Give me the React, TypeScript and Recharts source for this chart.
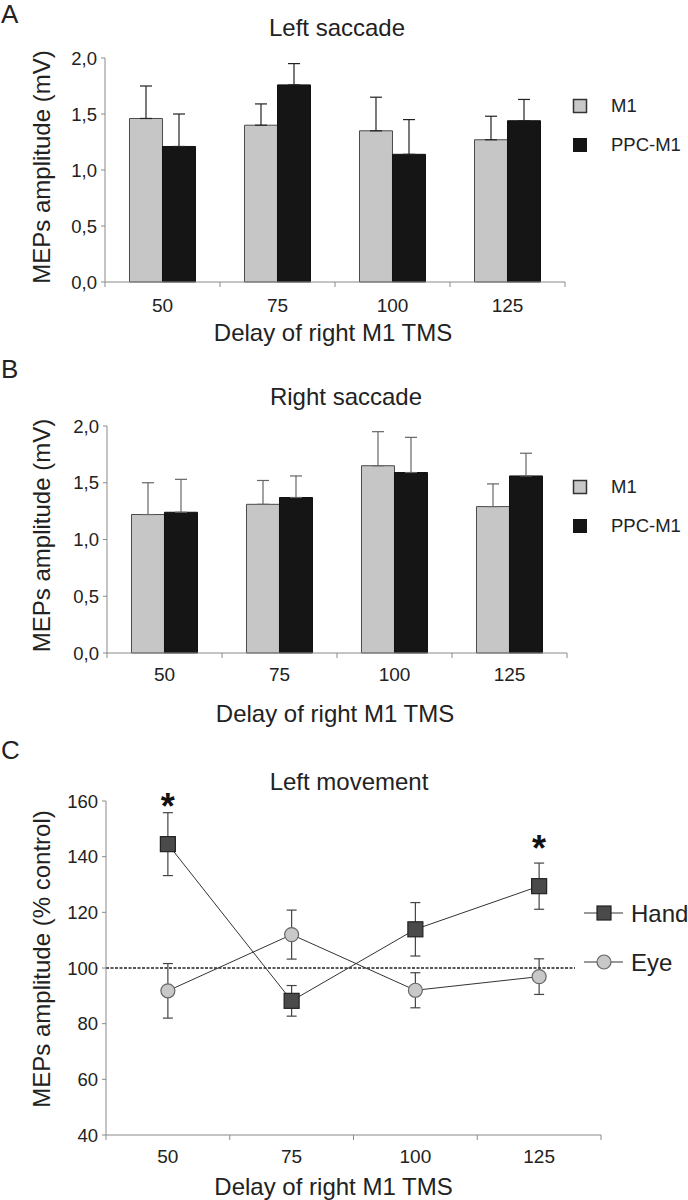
import React from 'react';
import {
  BarChart,
  Bar,
  ComposedChart,
  Line,
  XAxis,
  YAxis,
  ErrorBar,
  Legend,
  ReferenceLine,
  LabelList,
} from 'recharts';

const FONT = '"Liberation Sans", Arial, Helvetica, sans-serif';
const TXT = '#222';
const AXIS = '#8a8a8a';

// ---------- data ----------
const delays = ['50', '75', '100', '125'];

const leftM1 = [1.46, 1.4, 1.35, 1.27];
const leftM1Err = [0.29, 0.19, 0.3, 0.21];
const leftPPC = [1.21, 1.76, 1.14, 1.44];
const leftPPCErr = [0.29, 0.19, 0.31, 0.19];

const rightM1 = [1.22, 1.31, 1.65, 1.29];
const rightM1Err = [0.28, 0.21, 0.3, 0.2];
const rightPPC = [1.24, 1.37, 1.59, 1.56];
const rightPPCErr = [0.29, 0.19, 0.31, 0.2];

const hand = [144.5, 88.2, 113.9, 129.4];
const handErr = [11.3, 5.5, 9.6, 8.3];
const eye = [91.8, 112.0, 92.0, 96.9];
const eyeErr = [9.8, 8.8, 6.3, 6.4];
const handSig = ['*', '', '', '*'];

const barTicks = [0, 0.5, 1, 1.5, 2];
const lineTicks = [40, 60, 80, 100, 120, 140, 160];
const controlLevel = 100;

const seriesNames = { m1: 'M1', ppc: 'PPC-M1', hand: 'Hand', eye: 'Eye' };
const xTitle = 'Delay of right M1 TMS';

const leftData = delays.map((d, i) => ({
  delay: d,
  m1: leftM1[i],
  m1Err: [0, leftM1Err[i]],
  ppc: leftPPC[i],
  ppcErr: [0, leftPPCErr[i]],
}));
const rightData = delays.map((d, i) => ({
  delay: d,
  m1: rightM1[i],
  m1Err: [0, rightM1Err[i]],
  ppc: rightPPC[i],
  ppcErr: [0, rightPPCErr[i]],
}));
const moveData = delays.map((d, i) => ({
  delay: d,
  hand: hand[i],
  handErr: handErr[i],
  eye: eye[i],
  eyeErr: eyeErr[i],
  sig: handSig[i],
}));

// ---------- helpers ----------
const makeXTick = (half: number, labelDy: number, count: number) => (props: any) => {
  const { x, y, payload } = props;
  const i = payload?.index ?? props.index;
  return (
    <g>
      <line x1={x - half} x2={x - half} y1={y} y2={y + 5} stroke={AXIS} strokeWidth={1} />
      {i === count - 1 && (
        <line x1={x + half} x2={x + half} y1={y} y2={y + 5} stroke={AXIS} strokeWidth={1} />
      )}
      <text x={x} y={y + labelDy} textAnchor="middle" fontSize={19} fill={TXT} fontFamily={FONT}>
        {payload.value}
      </text>
    </g>
  );
};

const makeXLabel = (dy: number, dx: number) => (props: any) => {
  const vb = props.viewBox || {};
  return (
    <text
      x={vb.x + vb.width / 2 + dx}
      y={vb.y + dy}
      textAnchor="middle"
      fontSize={24}
      fill={TXT}
      fontFamily={FONT}
    >
      {xTitle}
    </text>
  );
};

const makeYLabel = (text: string, dxBase: number, dyC: number) => (props: any) => {
  const vb = props.viewBox || {};
  const x = vb.x + dxBase;
  const y = vb.y + vb.height / 2 + dyC;
  return (
    <text
      x={x}
      y={y}
      transform={`rotate(-90, ${x}, ${y})`}
      textAnchor="middle"
      fontSize={24}
      fill={TXT}
      fontFamily={FONT}
    >
      {text}
    </text>
  );
};

const commaFmt = (v: number) => v.toFixed(1).replace('.', ',');

const BarLegend = () => (
  <svg width={118} height={64} style={{ overflow: 'visible' }}>
    <rect x={3.5} y={4.5} width={13} height={13} fill="#c8c8c8" stroke="#333" strokeWidth={1.5} />
    <text x={41} y={17} fontSize={18.5} fill={TXT} fontFamily={FONT}>
      {seriesNames.m1}
    </text>
    <rect x={3.5} y={43.5} width={13} height={13} fill="#151515" stroke="#151515" strokeWidth={1} />
    <text x={41} y={56} fontSize={18.5} fill={TXT} fontFamily={FONT}>
      {seriesNames.ppc}
    </text>
  </svg>
);

const LineLegend = () => (
  <svg width={104} height={80} style={{ overflow: 'visible' }}>
    <line x1={0} x2={39} y1={13} y2={13} stroke="#333" strokeWidth={1} />
    <rect x={13} y={6} width={14} height={14} fill="#4a4a4a" stroke="#222" strokeWidth={1.2} />
    <text x={47} y={21.5} fontSize={24} fill={TXT} fontFamily={FONT}>
      {seriesNames.hand}
    </text>
    <line x1={0} x2={39} y1={62} y2={62} stroke="#333" strokeWidth={1} />
    <circle cx={20} cy={62} r={7} fill="#c8c8c8" stroke="#666" strokeWidth={1.2} />
    <text x={47} y={70.5} fontSize={24} fill={TXT} fontFamily={FONT}>
      {seriesNames.eye}
    </text>
  </svg>
);

const squareDot = (props: any) => {
  const { cx, cy, key } = props;
  if (cx == null || cy == null) return <g key={key} />;
  return (
    <rect
      key={key}
      x={cx - 7.5}
      y={cy - 7.5}
      width={15}
      height={15}
      fill="#4a4a4a"
      stroke="#222"
      strokeWidth={1.2}
    />
  );
};

const starLabel = (props: any) => {
  const { x, y, value } = props;
  if (!value) return null;
  return (
    <text
      x={x}
      y={y - 25}
      textAnchor="middle"
      fontSize={36}
      fontWeight="bold"
      fill="#111"
      fontFamily={FONT}
    >
      {value}
    </text>
  );
};

// ---------- panels ----------
type BarPanelProps = {
  data: any[];
  top: number;
  height: number;
  marginTop: number;
  yWidth: number;
  right: number;
  xHeight: number;
  errColor: string;
  tickDy: number;
  labelDy: number;
  yLabelDy: number;
  legendTop: number;
};

const BarPanel = (p: BarPanelProps) => {
  const plotW = 688 - p.yWidth - p.right;
  const half = plotW / delays.length / 2;
  return (
    <div style={{ position: 'absolute', left: 0, top: p.top }}>
      <BarChart
        width={688}
        height={p.height}
        data={p.data}
        margin={{ top: p.marginTop, right: p.right, bottom: 0, left: 0 }}
        barCategoryGap="21.3%"
        barGap={0}
      >
        <XAxis
          dataKey="delay"
          type="category"
          scale="band"
          height={p.xHeight}
          axisLine={{ stroke: AXIS }}
          tickLine={false}
          tickSize={0}
          tickMargin={0}
          tick={makeXTick(half, p.tickDy, delays.length)}
          interval={0}
          label={makeXLabel(p.labelDy, -2)}
        />
        <YAxis
          type="number"
          domain={[0, 2]}
          ticks={barTicks}
          width={p.yWidth}
          axisLine={{ stroke: AXIS }}
          tickLine={{ stroke: AXIS }}
          tickSize={4}
          tickMargin={4}
          tickFormatter={commaFmt}
          tick={{ fontSize: 18.5, fill: TXT, fontFamily: FONT }}
          interval={0}
          label={makeYLabel('MEPs amplitude (mV)', 50, p.yLabelDy)}
        />
        <Legend
          layout="vertical"
          align="center"
          verticalAlign="middle"
          content={BarLegend}
          wrapperStyle={{ left: 570, top: p.legendTop, width: 118, height: 64 }}
        />
        <Bar
          dataKey="m1"
          name={seriesNames.m1}
          fill="#c6c6c6"
          stroke="#4a4a4a"
          strokeWidth={1}
          isAnimationActive={false}
        >
          <ErrorBar dataKey="m1Err" width={6} stroke={p.errColor} strokeWidth={1.2} direction="y" />
        </Bar>
        <Bar
          dataKey="ppc"
          name={seriesNames.ppc}
          fill="#151515"
          stroke="#111"
          strokeWidth={1}
          isAnimationActive={false}
        >
          <ErrorBar dataKey="ppcErr" width={6} stroke={p.errColor} strokeWidth={1.2} direction="y" />
        </Bar>
      </BarChart>
    </div>
  );
};

const LinePanel = () => {
  const yWidth = 106;
  const right = 87;
  const plotW = 688 - yWidth - right;
  const half = plotW / delays.length / 2;
  return (
    <div style={{ position: 'absolute', left: 0, top: 740 }}>
      <ComposedChart
        width={688}
        height={460}
        data={moveData}
        margin={{ top: 61, right, bottom: 0, left: 0 }}
      >
        <XAxis
          dataKey="delay"
          type="category"
          scale="band"
          height={65}
          axisLine={{ stroke: AXIS }}
          tickLine={false}
          tickSize={0}
          tickMargin={0}
          tick={makeXTick(half, 28, delays.length)}
          interval={0}
          label={makeXLabel(60, -20)}
        />
        <YAxis
          type="number"
          domain={[40, 160]}
          ticks={lineTicks}
          width={yWidth}
          axisLine={{ stroke: AXIS }}
          tickLine={{ stroke: AXIS }}
          tickSize={4}
          tickMargin={4}
          tick={{ fontSize: 18.5, fill: TXT, fontFamily: FONT }}
          interval={0}
          label={makeYLabel('MEPs amplitude (% control)', 50, -9)}
        />
        <ReferenceLine
          y={controlLevel}
          stroke="#222"
          strokeWidth={1.5}
          strokeDasharray="3 1.5"
          shape={(sp: any) => (
            <line
              x1={sp.x1}
              y1={sp.y1}
              x2={sp.x2 - 26}
              y2={sp.y2}
              stroke="#222"
              strokeWidth={1.5}
              strokeDasharray="3 1.5"
            />
          )}
        />
        <Legend
          layout="vertical"
          align="center"
          verticalAlign="middle"
          content={LineLegend}
          wrapperStyle={{ left: 584, top: 160, width: 104, height: 80 }}
        />
        <Line
          dataKey="eye"
          name={seriesNames.eye}
          stroke="#333"
          strokeWidth={1}
          dot={{ r: 7, fill: '#c8c8c8', stroke: '#666', strokeWidth: 1.2 }}
          activeDot={false}
          isAnimationActive={false}
        >
          <ErrorBar dataKey="eyeErr" width={5} stroke="#444" strokeWidth={1.2} direction="y" />
        </Line>
        <Line
          dataKey="hand"
          name={seriesNames.hand}
          stroke="#333"
          strokeWidth={1}
          dot={squareDot}
          activeDot={false}
          isAnimationActive={false}
        >
          <ErrorBar dataKey="handErr" width={5} stroke="#444" strokeWidth={1.2} direction="y" />
          <LabelList dataKey="sig" content={starLabel} />
        </Line>
      </ComposedChart>
    </div>
  );
};

const Overlay = () => (
  <svg
    width={688}
    height={1200}
    style={{ position: 'absolute', left: 0, top: 0, pointerEvents: 'none' }}
  >
    <text x={1} y={23} fontSize={26} fill={TXT} fontFamily={FONT}>A</text>
    <text x={337} y={36} fontSize={24} textAnchor="middle" fill={TXT} fontFamily={FONT}>
      Left saccade
    </text>
    <text x={1} y={378} fontSize={26} fill={TXT} fontFamily={FONT}>B</text>
    <text x={346} y={405} fontSize={24} textAnchor="middle" fill={TXT} fontFamily={FONT}>
      Right saccade
    </text>
    <text x={1} y={759} fontSize={26} fill={TXT} fontFamily={FONT}>C</text>
    <text x={349} y={790} fontSize={24} textAnchor="middle" fill={TXT} fontFamily={FONT}>
      Left movement
    </text>
  </svg>
);

export default function App() {
  return (
    <div
      style={{
        position: 'absolute',
        left: 0,
        top: 0,
        width: 688,
        height: 1200,
        overflow: 'hidden',
        background: '#fff',
        fontFamily: FONT,
      }}
    >
      <BarPanel
        data={leftData}
        top={0}
        height={350}
        marginTop={58}
        yWidth={105}
        right={123}
        xHeight={68}
        errColor="#222"
        tickDy={30}
        labelDy={59}
        yLabelDy={-3}
        legendTop={95}
      />
      <BarPanel
        data={rightData}
        top={370}
        height={360}
        marginTop={56}
        yWidth={107}
        right={121}
        xHeight={77}
        errColor="#666"
        tickDy={28}
        labelDy={69}
        yLabelDy={-4}
        legendTop={106}
      />
      <LinePanel />
      <Overlay />
    </div>
  );
}
